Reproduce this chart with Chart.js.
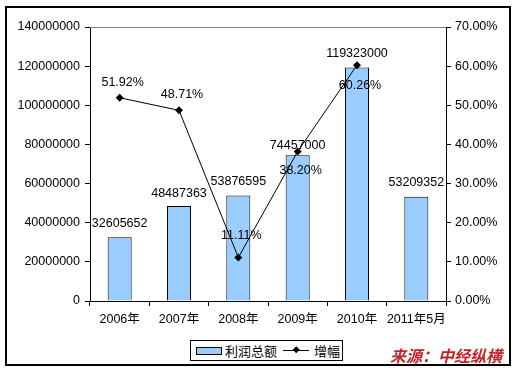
<!DOCTYPE html>
<html>
<head>
<meta charset="utf-8">
<script src="https://cdn.jsdelivr.net/npm/chart.js@4"></script>
<style>
  html,body{margin:0;padding:0;background:#fff;}
  #wrap{position:relative;width:514px;height:370px;}
  #frame{position:absolute;left:5px;top:6px;width:502px;height:356px;border:2px solid #000;}
  #c{position:absolute;left:0;top:0;}
  #legend{position:absolute;left:190px;top:340px;width:151px;height:19px;border:1px solid #000;background:#fff;
    font:13px 'Noto Sans CJK SC','Liberation Sans',sans-serif;color:#000;line-height:19px;white-space:nowrap;}
  #legend .sw{position:absolute;left:5px;top:6px;width:24px;height:6px;background:#99ccff;border:1px solid #000;}
  #legend .t1{position:absolute;left:34px;top:0;}
  #legend svg{position:absolute;left:92px;top:4px;}
  #legend .t2{position:absolute;left:123px;top:0;}
  #src{position:absolute;left:390px;top:345px;font:italic bold 16px 'Noto Sans CJK SC',sans-serif;color:#c4232a;letter-spacing:0px;line-height:20px;}
</style>
</head>
<body>
<div id="wrap">
  <div id="frame"></div>
  <canvas id="c" width="514" height="370"></canvas>
  <div id="legend">
    <span class="sw"></span><span class="t1">利润总额</span>
    <svg width="26" height="11"><line x1="0" y1="5.5" x2="26" y2="5.5" stroke="#000" stroke-width="1"/><rect x="10" y="2" width="5" height="5" transform="rotate(45 12.5 5.5)" fill="#000"/></svg>
    <span class="t2">增幅</span>
  </div>
  <div id="src">来源：中经纵横</div>
</div>
<script>
// 利润总额 与 增幅
const categories=['2006年','2007年','2008年','2009年','2010年','2011年5月'];
const profit=[32605652,48487363,53876595,74457000,119323000,53209352];
const growth=[51.92,48.71,11.11,38.20,60.26,null];
const profitLabels=['32605652','48487363','53876595','74457000','119323000','53209352'];
const growthLabels=['51.92%','48.71%','11.11%','38.20%','60.26%',''];

const FONT="'Liberation Sans','Noto Sans CJK SC',sans-serif";

// 标签 + 顶部灰色边框
const labelPlugin={
  id:'labels',
  afterDatasetsDraw(chart){
    const ctx=chart.ctx, a=chart.chartArea;
    ctx.save();
    ctx.strokeStyle='#808080';ctx.lineWidth=1;
    ctx.beginPath();ctx.moveTo(a.left,a.top+0.5);ctx.lineTo(a.right,a.top+0.5);ctx.stroke();
    ctx.font='12.5px '+FONT;ctx.fillStyle='#000';ctx.textAlign='center';ctx.textBaseline='middle';
    const bars=chart.getDatasetMeta(0).data;
    const barOff=[14,13,14,10,14,14];
    bars.forEach((b,i)=>{ctx.fillText(profitLabels[i],b.x,b.y-barOff[i]);});
    const pts=chart.getDatasetMeta(1).data;
    const lineOff=[-15,-16,-22,19,20];
    pts.forEach((p,i)=>{
      if(growth[i]==null) return;
      ctx.fillText(growthLabels[i],p.x+3,p.y+lineOff[i]);
    });
    ctx.restore();
  }
};

new Chart(document.getElementById('c').getContext('2d'),{
  data:{
    labels:categories,
    datasets:[
      {type:'bar',label:'利润总额',data:profit,yAxisID:'y',backgroundColor:'#99ccff',borderColor:'#000',borderWidth:1,
        categoryPercentage:1,barPercentage:0.405,order:2},
      {type:'line',label:'增幅',data:growth,yAxisID:'y1',borderColor:'#000',borderWidth:1,backgroundColor:'#000',
        pointStyle:'rectRot',pointRadius:4,pointBorderWidth:0,tension:0,spanGaps:false,order:1}
    ]
  },
  options:{
    responsive:false,animation:false,
    layout:{padding:{top:27,left:0,right:0,bottom:0}},
    plugins:{legend:{display:false},tooltip:{enabled:false}},
    scales:{
      x:{offset:true,
        grid:{display:true,drawOnChartArea:false,offset:true,tickLength:5,color:'#000'},
        border:{color:'#000',width:1},
        ticks:{color:'#000',font:{size:12.5,family:FONT},padding:6,maxRotation:0,autoSkip:false},
        afterFit(s){s.height=69;}},
      y:{position:'left',min:0,max:140000000,
        grid:{display:true,drawOnChartArea:false,tickLength:5,color:'#000'},
        border:{color:'#000',width:1},
        ticks:{stepSize:20000000,color:'#000',font:{size:12.5,family:FONT},padding:5,callback:v=>String(v)},
        afterFit(s){s.width=90;}},
      y1:{position:'right',min:0,max:70,
        grid:{display:true,drawOnChartArea:false,tickLength:5,color:'#000'},
        border:{color:'#000',width:1},
        ticks:{stepSize:10,color:'#000',font:{size:12.5,family:FONT},padding:4,callback:v=>v.toFixed(2)+'%'},
        afterFit(s){s.width=68;}}
    }
  },
  plugins:[labelPlugin]
});
</script>
</body>
</html>
